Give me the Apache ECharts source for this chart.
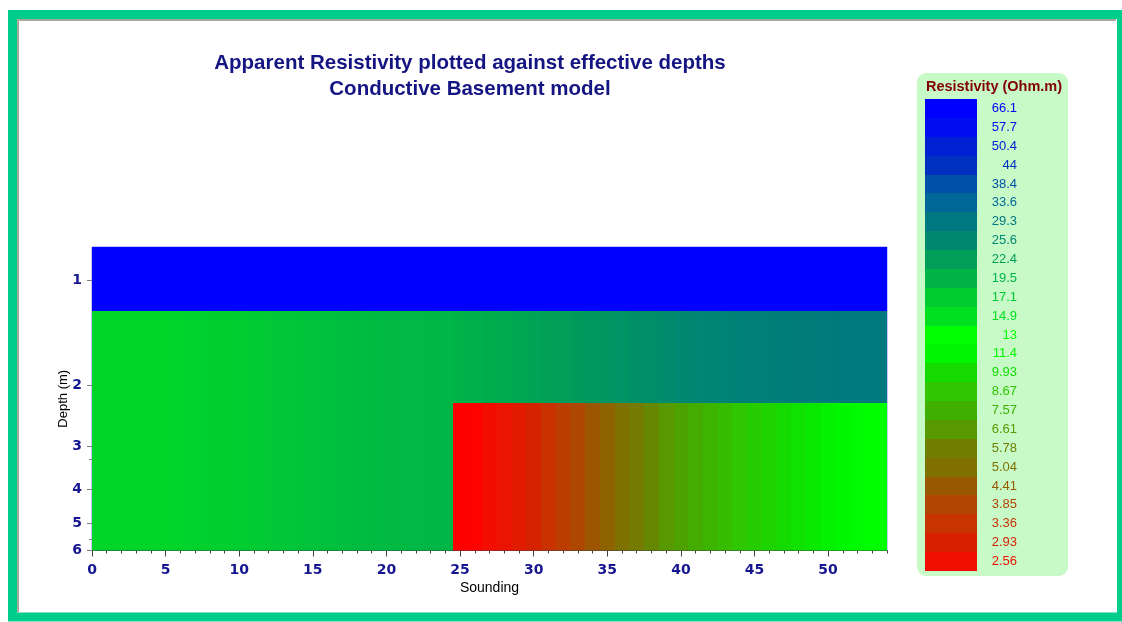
<!DOCTYPE html>
<html>
<head>
<meta charset="utf-8">
<script src="https://cdn.jsdelivr.net/npm/echarts@6/dist/echarts.min.js"></script>
<style>
html,body{margin:0;padding:0;background:#ffffff;}
#chart{width:1122px;height:622px;}
</style>
</head>
<body>
<div id="chart"></div>
<script>
// ---------- DATA ----------
const soundings = [0,1,2,3,4,5,6,7,8,9,10,11,12,13,14,15,16,17,18,19,20,21,22,23,24,25,26,27,28,29,30,31,32,33,34,35,36,37,38,39,40,41,42,43,44,45,46,47,48,49,50,51,52,53,54];
const topLayerRes = [70,70,70,70,70,70,70,70,70,70,70,70,70,70,70,70,70,70,70,70,70,70,70,70,70,70,70,70,70,70,70,70,70,70,70,70,70,70,70,70,70,70,70,70,70,70,70,70,70,70,70,70,70,70,70];
const middleLayerRes = [16.0,16.0,16.0,16.0,16.0,16.1,16.2,16.4,16.6,16.8,17.0,17.2,17.4,17.6,17.8,18.0,18.2,18.4,18.6,18.8,18.9,19.0,19.1,19.2,19.3,19.6,20.0,20.4,20.8,21.2,21.6,22.0,22.4,22.8,23.2,23.6,24.0,24.4,24.8,25.2,25.6,26.0,26.4,26.8,27.1,27.4,27.6,27.8,28.0,28.2,28.4,28.5,28.6,28.7,28.8];
const basementSoundings = [25,26,27,28,29,30,31,32,33,34,35,36,37,38,39,40,41,42,43,44,45,46,47,48,49,50,51,52,53,54];
const basementRes = [2.30,2.35,2.5,2.65,2.8,3.0,3.3,3.6,3.9,4.3,4.7,5.1,5.6,6.1,6.6,7.0,7.4,7.8,8.2,8.7,9.1,9.5,9.9,10.3,10.7,11.1,11.6,12.2,12.6,13.0];
const layerDepths = [0.8, 1.22, 2.26, 6];
const xTickLabels = [0,5,10,15,20,25,30,35,40,45,50];
const depthTickLabels = [1,2,3,4,5,6];
const depthMinorTicks = [3.27,5.56];
const legendLabels = ['66.1','57.7','50.4','44','38.4','33.6','29.3','25.6','22.4','19.5','17.1','14.9','13','11.4','9.93','8.67','7.57','6.61','5.78','5.04','4.41','3.85','3.36','2.93','2.56'];

// ---------- STYLES ----------
const legendColors = ['#0000FF','#000EF0','#0020D4','#0030C0','#0050A8','#006898','#007880','#008870','#009E58','#00B448','#00CC32','#00E020','#00FF00','#00F600','#14DA00','#30C600','#40B000','#589800','#707E00','#807000','#985800','#B04600','#C83400','#D82000','#F01000'];
const belowMinColor = '#FF0000';
const belowMinValue = 2.3;
const navy = '#161690';

function hexToRgb(h){return [parseInt(h.slice(1,3),16),parseInt(h.slice(3,5),16),parseInt(h.slice(5,7),16)];}
const stops = legendLabels.map((l,i)=>({v:Math.log10(parseFloat(l)), c:hexToRgb(legendColors[i])}));
stops.push({v:Math.log10(belowMinValue), c:hexToRgb(belowMinColor)});
function colorFor(val){
  const lv = Math.log10(val);
  if (lv >= stops[0].v) return 'rgb(' + stops[0].c.join(',') + ')';
  for (let i = 0; i < stops.length - 1; i++) {
    const a = stops[i], b = stops[i+1];
    if (lv >= b.v) {
      const t = (lv - b.v) / (a.v - b.v);
      const c = [0,1,2].map(k => Math.round(b.c[k] + (a.c[k] - b.c[k]) * t));
      return 'rgb(' + c.join(',') + ')';
    }
  }
  return 'rgb(' + stops[stops.length-1].c.join(',') + ')';
}

// ---------- BUILD CELLS ----------
const xMin = soundings[0], xMax = soundings[soundings.length-1];
const cells = [];
soundings.forEach((s,i)=>{
  const x0 = Math.max(xMin, s-0.5), x1 = Math.min(xMax, s+0.5);
  const b = basementSoundings.indexOf(s);
  cells.push([x0,x1,layerDepths[0],layerDepths[1],topLayerRes[i]]);
  cells.push([x0,x1,layerDepths[1], b>=0 ? layerDepths[2] : layerDepths[3], middleLayerRes[i]]);
  if (b >= 0) cells.push([x0,x1,layerDepths[2],layerDepths[3],basementRes[b]]);
});

const rich = {};
legendColors.forEach((c,i)=>{ rich['c'+i] = {color:c, fontSize:13, fontFamily:'Liberation Sans', width:36, align:'right'}; });

const chart = echarts.init(document.getElementById('chart'), null, {renderer:'canvas'});
chart.setOption({
  animation:false,
  backgroundColor:'#ffffff',
  graphic:[
    {type:'rect', z:-10, shape:{x:12.5,y:14.5,width:1109,height:602.5}, style:{fill:'#ffffff', stroke:'#00CC8C', lineWidth:9}},
    {type:'polyline', z:-9, shape:{points:[[18,612],[18,20],[1116,20]]}, style:{fill:'none', stroke:'#A8A89C', lineWidth:2}},
    {type:'rect', z:-8, shape:{x:917,y:73,width:151,height:503,r:9}, style:{fill:'#C8FAC8'}},
    {type:'text', z:5, style:{text:'Apparent Resistivity plotted against effective depths', x:470, y:63, align:'center', verticalAlign:'middle', fill:'#141482', font:'bold 20.5px "Liberation Sans", Arial, sans-serif'}},
    {type:'text', z:5, style:{text:'Conductive Basement model', x:470, y:89, align:'center', verticalAlign:'middle', fill:'#141482', font:'bold 20.5px "Liberation Sans", Arial, sans-serif'}},
    {type:'text', z:5, style:{text:'Resistivity (Ohm.m)', x:994, y:87, align:'center', verticalAlign:'middle', fill:'#800000', font:'bold 14.5px "Liberation Sans", Arial, sans-serif'}}
  ],
  grid:[
    {left:92, top:247, width:795, height:303.5, show:true, borderColor:'#8c8cff', borderWidth:1, backgroundColor:'transparent', containLabel:false, outerBoundsMode:'none'},
    {left:925, top:99, width:52, height:472, show:false, containLabel:false, outerBoundsMode:'none'}
  ],
  xAxis:[
    {type:'value', gridIndex:0, position:'bottom', min:xMin, max:xMax, interval:1,
     axisLine:{show:true, lineStyle:{color:'#404040', width:1}},
     axisTick:{show:true, length:3, lineStyle:{color:'#404040'}},
     axisLabel:{show:false}, splitLine:{show:false},
     name:'Sounding', nameLocation:'middle', nameGap:31, nameMoveOverlap:false,
     nameTextStyle:{color:'#000000', fontSize:14, fontFamily:'Liberation Sans'}},
    {type:'value', gridIndex:0, position:'bottom', min:xMin, max:xMax, interval:5,
     axisLine:{show:false},
     axisTick:{show:true, length:6, customValues:xTickLabels, lineStyle:{color:'#404040'}},
     axisLabel:{show:true, customValues:xTickLabels, margin:13, color:navy, fontSize:14, fontWeight:'bold', fontFamily:'DejaVu Sans'},
     splitLine:{show:false}},
    {type:'value', gridIndex:1, min:0, max:1, show:false}
  ],
  yAxis:[
    {type:'log', logBase:10, gridIndex:0, position:'left', min:layerDepths[0], max:layerDepths[3], inverse:true,
     axisLine:{show:false},
     axisTick:{show:true, length:5, customValues:depthTickLabels, lineStyle:{color:'#808080'}},
     axisLabel:{show:true, customValues:depthTickLabels, margin:10, color:navy, fontSize:14, fontWeight:'bold', fontFamily:'DejaVu Sans', formatter:v=>String(Math.round(v))},
     splitLine:{show:false}, minorTick:{show:false},
     name:'Depth (m)', nameLocation:'middle', nameGap:22, nameMoveOverlap:false,
     nameTextStyle:{color:'#000000', fontSize:13, fontFamily:'Liberation Sans'}},
    {type:'log', logBase:10, gridIndex:0, position:'left', min:layerDepths[0], max:layerDepths[3], inverse:true,
     axisLine:{show:false},
     axisTick:{show:true, length:3, customValues:depthMinorTicks, lineStyle:{color:'#808080'}},
     axisLabel:{show:false}, splitLine:{show:false}},
    {type:'category', gridIndex:1, position:'right', data:legendLabels, inverse:true,
     axisLine:{show:false}, axisTick:{show:false}, splitLine:{show:false},
     axisLabel:{show:true, interval:0, margin:4, formatter:(v,i)=>'{c'+i+'|'+v+'}', rich:rich}}
  ],
  series:[
    {type:'custom', xAxisIndex:0, yAxisIndex:0, data:cells, encode:{x:[0,1], y:[2,3]}, clip:true,
     renderItem:function(params, api){
       const p0 = api.coord([api.value(0), api.value(2)]);
       const p1 = api.coord([api.value(1), api.value(3)]);
       const x = Math.round(p0[0]), y = Math.round(p0[1]);
       const w = Math.round(p1[0]) - x, h = Math.round(p1[1]) - y;
       return {type:'rect', shape:{x:x, y:y, width:w, height:h}, style:{fill:colorFor(api.value(4))}};
     }},
    {type:'custom', xAxisIndex:2, yAxisIndex:2, data:legendLabels.map((l,i)=>[0,i]), encode:{x:0, y:1},
     renderItem:function(params, api){
       const idx = api.value(1);
       const c = api.coord([0, idx]);
       const s = api.size([1, 1]);
       const y0 = Math.round(c[1] - s[1]/2), y1 = Math.round(c[1] + s[1]/2);
       return {type:'rect', shape:{x:Math.round(c[0]), y:y0, width:Math.round(s[0]), height:y1-y0}, style:{fill:legendColors[idx]}};
     }}
  ]
});
</script>
</body>
</html>
